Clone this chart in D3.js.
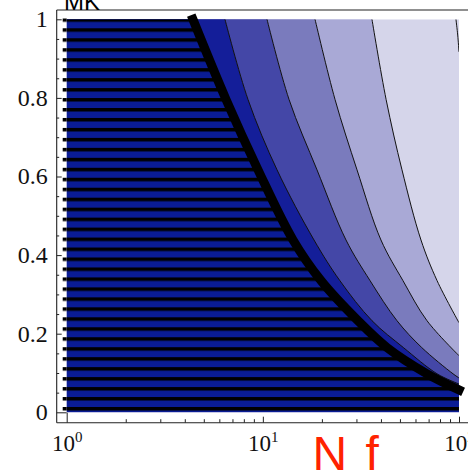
<!DOCTYPE html>
<html><head><meta charset="utf-8">
<script src="https://cdn.jsdelivr.net/npm/d3@7"></script>
<style>html,body{margin:0;padding:0;background:#fff;overflow:hidden}</style>
</head><body>
<svg id="c" width="468" height="471"></svg>
<script>
// ---- data (N f on log x, MK on y) ----
const boundaryX = [4.40, 6.49, 9.45, 14.25, 19.8, 30.56, 42.9, 68.7, 100];
const boundaryY = [1.0, 0.796, 0.617, 0.4385, 0.335, 0.233, 0.165, 0.098, 0.057];
const contour1X = [6.41, 8.40, 11.81, 18.23, 24.7, 36.02, 52.0, 77.3, 100];
const contour1Y = [1.0, 0.796, 0.617, 0.4385, 0.335, 0.233, 0.165, 0.098, 0.072];
const contour2X = [10.50, 13.60, 18.88, 26.54, 35.2, 48.3, 64.5, 93.2, 100];
const contour2Y = [1.0, 0.796, 0.617, 0.4385, 0.335, 0.233, 0.165, 0.098, 0.0875];
const contour3X = [18.45, 23.33, 30.2, 40.0, 51.8, 68.7, 100];
const contour3Y = [1.0, 0.796, 0.617, 0.4385, 0.335, 0.233, 0.144];
const contour4X = [36.0, 42.5, 51.2, 64.0, 77.3, 100];
const contour4Y = [1.0, 0.796, 0.617, 0.4385, 0.335, 0.228];
const contour5X = [96.5, 98.5, 100];
const contour5Y = [1.0, 0.96, 0.917];
const bandColors = ["#141e99", "#4447a7", "#7a7bbd", "#a9a9d6", "#d5d5ea"];
const stripeBlue = "#0a1c95";
const stripeCount = 40;
const yMajorTicks = [0, 0.2, 0.4, 0.6, 0.8, 1];
const yMinorTicks = [0.05, 0.1, 0.15, 0.25, 0.3, 0.35, 0.45, 0.5, 0.55, 0.65, 0.7, 0.75, 0.85, 0.9, 0.95];
const yTickLabels = ["0", "0.2", "0.4", "0.6", "0.8", "1"];
const xMajorTicks = [1, 10, 100];
const xMinorTicks = [2, 3, 4, 5, 6, 7, 8, 9, 20, 30, 40, 50, 60, 70, 80, 90];
const xTickExponents = ["0", "1", "2"];
const yTitle = "MK";
const xTitle = "N f";

const svg = d3.select("#c");
const X = d3.scaleLog().domain([1, 100]).range([66.7, 459]);
const Y = d3.scaleLinear().domain([0, 1]).range([412.3, 19.3]);
const axisX = 56.7, axisY = 422.7, topY = 10;

const zip = (xs, ys) => xs.map((v, i) => [v, ys[i]]);
const lineGen = d3.line().x(d => X(d[0])).y(d => Y(d[1])).curve(d3.curveCatmullRom.alpha(0.5));
function region(pts) {
  return `M${X(1)},${Y(0)}L${X(1)},${Y(1)}` + lineGen(pts).replace(/^M/, "L") + `L${X(100)},${Y(0)}Z`;
}

const defs = svg.append("defs");
const stripeH = (Y(0) - Y(1) - 4.3) / (stripeCount - 1);
const pat = defs.append("pattern").attr("id", "stripes")
  .attr("patternUnits", "userSpaceOnUse").attr("width", 20).attr("height", stripeH)
  .attr("patternTransform", `translate(0,${Y(1) - 1})`);
pat.append("rect").attr("x", 0).attr("y", 0).attr("width", 20).attr("height", 3.5).attr("fill", "#000");
defs.append("clipPath").attr("id", "plotclip").append("rect")
  .attr("x", X(1)).attr("y", Y(1)).attr("width", X(100) - X(1)).attr("height", Y(0) - Y(1));

const contours = [
  zip(contour1X, contour1Y), zip(contour2X, contour2Y), zip(contour3X, contour3Y),
  zip(contour4X, contour4Y)
];
const boundary = zip(boundaryX, boundaryY);

const plot = svg.append("g").attr("clip-path", "url(#plotclip)");
// background band (outermost)
plot.append("rect").attr("x", X(1)).attr("y", Y(1)).attr("width", X(100) - X(1)).attr("height", Y(0) - Y(1))
  .attr("fill", bandColors[4]);
// bands, outermost first
for (let k = 3; k >= 0; k--) {
  plot.append("path").attr("d", region(contours[k])).attr("fill", bandColors[k]);
}
// striped region
plot.append("path").attr("d", region(boundary)).attr("fill", stripeBlue);
plot.append("path").attr("d", region(boundary)).attr("fill", "url(#stripes)");
svg.append("rect").attr("x", X(1) - 4).attr("y", Y(1) - 1).attr("width", 4).attr("height", Y(0) - Y(1) + 1)
  .attr("fill", "url(#stripes)");

// contour lines
[...contours, zip(contour5X, contour5Y)].forEach(c => {
  plot.append("path").attr("d", lineGen(c)).attr("fill", "none").attr("stroke", "#111").attr("stroke-width", 1);
});
// thick boundary
svg.append("path").attr("d", lineGen(boundary)).attr("fill", "none").attr("stroke", "#000")
  .attr("stroke-width", 9).attr("stroke-linecap", "square");

// frame lines
const fr = svg.append("g").attr("stroke", "#222").attr("stroke-width", 1.1);
fr.append("line").attr("x1", axisX).attr("x2", axisX).attr("y1", topY).attr("y2", axisY);
fr.append("line").attr("x1", axisX).attr("x2", 468).attr("y1", axisY).attr("y2", axisY);
fr.append("line").attr("x1", axisX).attr("x2", 468).attr("y1", topY).attr("y2", topY);

// y axis
const yMaj = svg.append("g").attr("transform", `translate(${axisX},0)`)
  .call(d3.axisLeft(Y).tickValues(yMajorTicks).tickSizeInner(-5).tickSizeOuter(0).tickPadding(9)
    .tickFormat((d, i) => yTickLabels[i]));
const yMin = svg.append("g").attr("transform", `translate(${axisX},0)`)
  .call(d3.axisLeft(Y).tickValues(yMinorTicks).tickSizeInner(-2.5).tickSizeOuter(0).tickFormat(""));
[yMaj, yMin].forEach(g => { g.select(".domain").remove(); g.selectAll("line").attr("stroke", "#222"); });
yMaj.selectAll("text").attr("font-family", "Liberation Serif, Times New Roman, serif")
  .attr("font-size", 24).attr("fill", "#111").attr("dy", "0.31em");
yMaj.selectAll(".tick").filter(d => d === 0).select("line").attr("x2", 10);

// x axis
const xMaj = svg.append("g").attr("transform", `translate(0,${axisY})`)
  .call(d3.axisBottom(X).tickValues(xMajorTicks).tickSizeInner(-6).tickSizeOuter(0).tickFormat(""));
const xMin = svg.append("g").attr("transform", `translate(0,${axisY})`)
  .call(d3.axisBottom(X).tickValues(xMinorTicks).tickSizeInner(-3.5).tickSizeOuter(0).tickFormat(""));
[xMaj, xMin].forEach(g => { g.select(".domain").remove(); g.selectAll("line").attr("stroke", "#222"); });
xMaj.selectAll(".tick").filter(d => d === 1).select("line").attr("y2", -10);
xMaj.selectAll(".tick").each(function (d, i) {
  const t = d3.select(this).append("text").attr("y", 28).attr("text-anchor", "middle")
    .attr("font-family", "Liberation Serif, Times New Roman, serif").attr("font-size", 23).attr("fill", "#111");
  t.append("tspan").text("10");
  t.append("tspan").attr("dy", -9).attr("font-size", 15).text(xTickExponents[i]);
});

// titles
svg.append("text").attr("x", 64).attr("y", 9.5).attr("font-family", "Liberation Sans, Arial, sans-serif")
  .attr("font-size", 24).attr("fill", "#000").text(yTitle);
svg.append("text").attr("x", 312.4).attr("y", 469.5).attr("font-family", "Liberation Sans, Arial, sans-serif")
  .attr("font-size", 48).attr("word-spacing", 5).attr("fill", "#ff2200").text(xTitle);
</script>
</body></html>
